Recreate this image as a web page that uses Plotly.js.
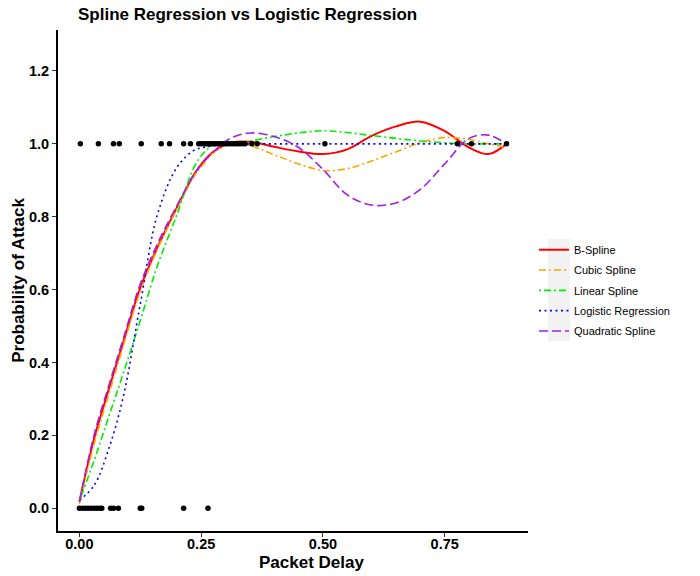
<!DOCTYPE html>
<html>
<head>
<meta charset="utf-8">
<script src="https://cdn.plot.ly/plotly-3.0.1.min.js"></script>
<style>html,body{margin:0;padding:0;background:#fff;}#chart{width:700px;height:576px;}</style>
</head>
<body>
<div id="chart"></div>
<script>
// Observed data points (packet delay vs attack label)
var attackZeroX = [0.000, 0.006, 0.012, 0.018, 0.024, 0.030, 0.036, 0.042, 0.046, 0.064, 0.070, 0.080, 0.125, 0.128, 0.214, 0.264];
var attackOneX = [0.002, 0.039, 0.070, 0.082, 0.127, 0.168, 0.185, 0.214, 0.228, 0.245, 0.250, 0.255, 0.258, 0.262, 0.265, 0.270, 0.275, 0.280, 0.285, 0.290, 0.295, 0.300, 0.305, 0.310, 0.315, 0.320, 0.325, 0.330, 0.335, 0.340, 0.354, 0.365, 0.504, 0.776, 0.805, 0.877];

// Fitted curves on a common grid of packet delay
var gridX = [0, 0.03, 0.06, 0.09, 0.125, 0.16, 0.2, 0.235, 0.255, 0.275, 0.31, 0.35, 0.4, 0.45, 0.5, 0.55, 0.6, 0.65, 0.7, 0.75, 0.8, 0.84, 0.877];
var bSpline =      [0.017, 0.19, 0.325, 0.455, 0.605, 0.715, 0.825, 0.915, 0.952, 0.978, 1.003, 1.006, 0.992, 0.979, 0.972, 0.985, 1.022, 1.048, 1.061, 1.035, 0.99, 0.972, 1.0];
var cubicSpline =  [0.012, 0.175, 0.31, 0.445, 0.595, 0.71, 0.82, 0.91, 0.945, 0.975, 1.0, 0.995, 0.97, 0.945, 0.927, 0.932, 0.953, 0.978, 1.003, 1.017, 1.012, 1.0, 0.99];
var linearSpline = [0.02, 0.13, 0.25, 0.37, 0.515, 0.665, 0.805, 0.935, 0.975, 0.996, 1.002, 1.008, 1.02, 1.03, 1.036, 1.031, 1.023, 1.015, 1.008, 1.003, 1.0, 1.0, 1.0];
var logisticReg =  [0.022, 0.062, 0.162, 0.305, 0.56, 0.805, 0.935, 0.982, 0.99, 0.995, 0.998, 1.0, 1.0, 1.0, 1.0, 1.0, 1.0, 1.0, 1.0, 1.0, 1.0, 1.0, 1.0];
var quadSpline =   [0.018, 0.2, 0.335, 0.465, 0.615, 0.725, 0.83, 0.915, 0.95, 0.978, 1.015, 1.03, 1.02, 0.99, 0.93, 0.86, 0.832, 0.838, 0.875, 0.945, 1.015, 1.024, 1.0];

var seriesNames = ["B-Spline", "Cubic Spline", "Linear Spline", "Logistic Regression", "Quadratic Spline"];

var xTickVals = [0, 0.25, 0.5, 0.75];
var xTickText = ["0.00", "0.25", "0.50", "0.75"];
var yTickVals = [0, 0.2, 0.4, 0.6, 0.8, 1.0, 1.2];
var yTickText = ["0.0", "0.2", "0.4", "0.6", "0.8", "1.0", "1.2"];

var FONT = "Liberation Sans, Arial, sans-serif";

var seriesValues = [bSpline, cubicSpline, linearSpline, logisticReg, quadSpline];
var seriesStyle = [
  {color: "#FF0000", dash: "solid", width: 2},
  {color: "#FFA500", dash: "7px,3px,2px,3px", width: 1.6},
  {color: "#00EE00", dash: "2px,3px,7px,3px", width: 1.6},
  {color: "#0000FF", dash: "2px,3.5px", width: 1.6},
  {color: "#A020F0", dash: "9px,4px", width: 1.6}
];

var traces = [];
for (var i = 0; i < seriesNames.length; i++) {
  traces.push({
    type: "scatter", mode: "lines",
    name: seriesNames[i],
    legendgroup: "g" + i,
    x: gridX, y: seriesValues[i],
    line: {color: seriesStyle[i].color, dash: seriesStyle[i].dash, width: seriesStyle[i].width, shape: "spline", smoothing: 1},
    hoverinfo: "skip"
  });
}
traces.push({
  type: "scatter", mode: "markers", showlegend: false,
  x: attackZeroX, y: attackZeroX.map(function(){return 0;}),
  marker: {color: "#000", size: 5.5}
});
traces.push({
  type: "scatter", mode: "markers", showlegend: false,
  x: attackOneX, y: attackOneX.map(function(){return 1;}),
  marker: {color: "#000", size: 5.5}
});

var layout = {
  width: 700, height: 576,
  margin: {l: 58, r: 172, t: 30, b: 45, pad: 0},
  paper_bgcolor: "#fff", plot_bgcolor: "#fff",
  font: {family: FONT, color: "#000"},
  showlegend: true,
  title: {
    text: "<b>Spline Regression vs Logistic Regression</b>",
    font: {family: FONT, size: 17, color: "#000"},
    x: 78/700, xanchor: "left", xref: "container",
    y: 1 - 14/576, yanchor: "middle", yref: "container",
    pad: {l: 0, r: 0, t: 0, b: 0}
  },
  xaxis: {
    range: [-0.0439, 0.921],
    tickvals: xTickVals, ticktext: xTickText,
    tickfont: {family: FONT, size: 14.5, color: "#000", weight: "bold"},
    ticks: "outside", ticklen: 4, tickcolor: "#333", tickwidth: 1,
    ticklabelstandoff: -5,
    showline: true, linecolor: "#000", linewidth: 2,
    showgrid: false, zeroline: false
  },
  yaxis: {
    range: [-0.0625, 1.3125],
    tickvals: yTickVals, ticktext: yTickText,
    tickfont: {family: FONT, size: 14.5, color: "#000", weight: "bold"},
    ticks: "outside", ticklen: 4, tickcolor: "#333", tickwidth: 1,
    showline: true, linecolor: "#000", linewidth: 2,
    showgrid: false, zeroline: false,
    title: {text: "<b>Probability of Attack</b>", font: {family: FONT, size: 17, color: "#000"}, standoff: 0}
  },
  legend: {
    x: 534/700, xref: "container", xanchor: "left",
    y: 0.4795, yanchor: "middle",
    font: {family: FONT, size: 11, color: "#000"},
    bgcolor: "rgba(0,0,0,0)",
    tracegroupgap: 1.3,
    itemwidth: 30
  },
  shapes: [
    {type: "rect", xref: "paper", yref: "paper", x0: (548-58)/470, x1: (570-58)/470, y0: (531-341)/501, y1: (531-239)/501, fillcolor: "#F2F2F2", line: {width: 0}, layer: "above"}
  ],
  annotations: [
    {text: "<b>Packet Delay</b>", xref: "paper", yref: "paper", x: (311-58)/470, y: (531-562)/501, xanchor: "center", yanchor: "middle", showarrow: false, font: {family: FONT, size: 17, color: "#000"}}
  ]
};

Plotly.newPlot("chart", traces, layout, {displayModeBar: false, staticPlot: true});
</script>
</body>
</html>
